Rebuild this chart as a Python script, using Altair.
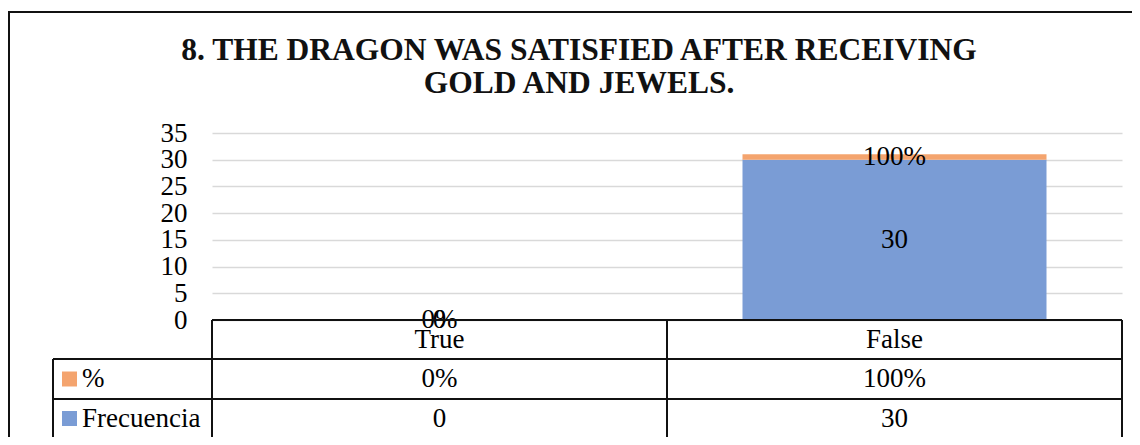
import altair as alt
import pandas as pd

# ---- data ----
categories = ["True", "False"]
frecuencia = [0, 30]
porcentaje = [0.0, 1.0]
series_names = ["Frecuencia", "%"]
title_lines = ["8. THE DRAGON WAS SATISFIED AFTER RECEIVING", "GOLD AND JEWELS."]
y_ticks = [0, 5, 10, 15, 20, 25, 30, 35]

BLUE = "#7A9CD5"
ORANGE = "#F4A46E"
FONT = "Liberation Serif"
FS = 27
LINE = "#111111"

wide = pd.DataFrame({"cat": categories, "freq": frecuencia, "pct": porcentaje})
wide["pctlabel"] = [f"{round(p * 100)}%" for p in porcentaje]

long = pd.DataFrame({
    "cat": categories * 2,
    "series": [series_names[0]] * 2 + [series_names[1]] * 2,
    "value": frecuencia + porcentaje,
    "order": [0, 0, 1, 1],
})
long["label"] = [str(v) for v in frecuencia] + list(wide["pctlabel"])

one = pd.DataFrame({"k": [0]})

W, H = 910, 187

xenc = alt.X("cat:N", sort=categories,
             scale=alt.Scale(domain=categories, paddingInner=0, paddingOuter=0),
             axis=None)
yaxis = alt.Axis(values=y_ticks, title=None, domain=False, ticks=False,
                 labelFont=FONT, labelFontSize=FS, labelColor="#000",
                 labelPadding=25, labelOverlap=False, labelBound=False,
                 gridColor="#d9d9d9", gridWidth=1.5)
yscale = alt.Scale(domain=[0, 35], nice=False, zero=True)

bars = alt.Chart(long).mark_bar(size=304).encode(
    x=xenc,
    y=alt.Y("value:Q", stack="zero", scale=yscale, axis=yaxis),
    color=alt.Color("series:N", scale=alt.Scale(domain=series_names, range=[BLUE, ORANGE]), legend=None),
    order=alt.Order("order:Q"),
)

labels = alt.Chart(long).transform_stack(
    stack="value", groupby=["cat"], as_=["v0", "v1"], sort=[alt.SortField("order")]
).transform_calculate(
    mid="(datum.v0 + datum.v1) / 2"
).mark_text(font=FONT, fontSize=FS, color="#000", baseline="middle").encode(
    x=xenc,
    y=alt.Y("mid:Q", scale=yscale, axis=yaxis),
    text="label:N",
)

# ---- data table ----
def hline(y, x0, x1):
    return alt.Chart(one).mark_rule(color=LINE, strokeWidth=2).encode(
        x=alt.value(x0), x2=alt.value(x1), y=alt.value(y))

def vline(x, y0, y1):
    return alt.Chart(one).mark_rule(color=LINE, strokeWidth=2).encode(
        x=alt.value(x), y=alt.value(y0), y2=alt.value(y1))

col_lines = alt.Chart(wide).mark_rule(color=LINE, strokeWidth=2).encode(
    x=alt.X("cat:N", sort=categories, bandPosition=0,
            scale=alt.Scale(domain=categories, paddingInner=0, paddingOuter=0), axis=None),
    y=alt.value(H), y2=alt.value(305),
)

cat_text = alt.Chart(wide).mark_text(font=FONT, fontSize=FS, color="#000", baseline="middle").encode(
    x=xenc, y=alt.value(206.5), text="cat:N")
pct_text = alt.Chart(wide).mark_text(font=FONT, fontSize=FS, color="#000", baseline="middle").encode(
    x=xenc, y=alt.value(246), text="pctlabel:N")
freq_text = alt.Chart(wide).mark_text(font=FONT, fontSize=FS, color="#000", baseline="middle").encode(
    x=xenc, y=alt.value(285.5), text="freq:Q")

sw_pct = alt.Chart(one).mark_square(size=225, color=ORANGE, opacity=1).encode(
    x=alt.value(-142.5), y=alt.value(246))
sw_freq = alt.Chart(one).mark_square(size=225, color=BLUE, opacity=1).encode(
    x=alt.value(-142.5), y=alt.value(285.5))
lg_pct = alt.Chart(one).mark_text(font=FONT, fontSize=FS, color="#000", align="left", baseline="middle").encode(
    x=alt.value(-130), y=alt.value(246), text=alt.value(series_names[1]))
lg_freq = alt.Chart(one).mark_text(font=FONT, fontSize=FS, color="#000", align="left", baseline="middle").encode(
    x=alt.value(-130), y=alt.value(285.5), text=alt.value(series_names[0]))

def title_line(txt, y):
    return alt.Chart(one).mark_text(font=FONT, fontSize=31.5, fontWeight="bold", color="#111",
                                    align="center", baseline="alphabetic").encode(
        x=alt.value(367), y=alt.value(y), text=alt.value(txt))

title1 = title_line(title_lines[0], -73)
title2 = title_line(title_lines[1], -40)

chart = alt.layer(
    bars, labels,
    hline(H, 0, W), hline(226, -159, W), hline(266, -159, W), hline(305, -159, W),
    col_lines, vline(W, H, 305), vline(-159, 226, 305),
    cat_text, pct_text, freq_text,
    sw_pct, sw_freq, lg_pct, lg_freq,
    title1, title2,
    hline(-121, -204, 930), vline(-203, -121, 320),
).properties(
    width=W, height=H,
    padding={"left": 204, "top": 125, "right": 10, "bottom": 117},
    autosize=alt.AutoSizeParams(type="none"),
    background="white",
).configure_view(stroke=None)

chart.save("out.html", embed_options={"renderer": "svg", "actions": False})
